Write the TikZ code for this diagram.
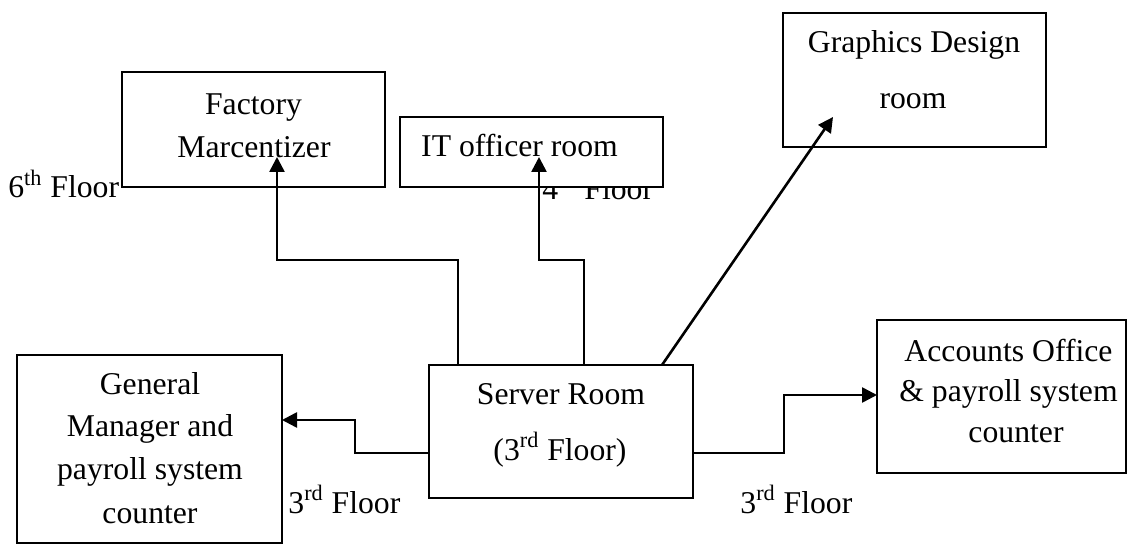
\documentclass[tikz,border=0pt]{standalone}
\usepackage{fontspec}
\setmainfont{Liberation Serif}
\usetikzlibrary{arrows.meta}
\begin{document}
\begin{tikzpicture}[x=0.5pt,y=-0.5pt,
  room/.style={draw, fill=white, line width=1.1pt, inner sep=0pt, outer sep=0pt},
  txt/.style={font=\fontsize{15.85}{19}\selectfont, inner sep=0pt, anchor=base},
  floorlbl/.style={txt, anchor=base west},
  link/.style={line width=1.3pt, -{Triangle[length=7.5pt,width=7.5pt]}}]

\useasboundingbox (0,0) rectangle (1128,544);

% floor labels (drawn first so the IT box hides part of one)
\node[floorlbl] (f6)  at (8,198)   {6\textsuperscript{th} Floor};
\node[floorlbl] (f4)  at (542,200) {4\textsuperscript{th} Floor};
\node[floorlbl] (f3l) at (288,513) {3\textsuperscript{rd} Floor};
\node[floorlbl] (f3r) at (740,513) {3\textsuperscript{rd} Floor};

% rooms
\node[room, minimum width=131.5pt, minimum height=57.5pt] (fac) at (253.5,129.5) {};
\node[room, minimum width=131.5pt, minimum height=35pt]   (it)  at (531.5,152) {};
\node[room, minimum width=131.5pt, minimum height=67pt]   (gfx) at (914.5,80) {};
\node[room, minimum width=132pt,   minimum height=66.5pt] (srv) at (561,431.5) {};
\node[room, minimum width=132.5pt, minimum height=94pt]   (gm)  at (149.5,449) {};
\node[room, minimum width=124.5pt, minimum height=76.5pt] (acc) at (1001.5,396.5) {};

% room names
\node[txt] (fac-a) at (253.5,115) {Factory};
\node[txt] (fac-b) at (254,158) {Marcentizer};
\node[txt] (it-a)  at (519.5,157) {IT officer room};
\node[txt] (gfx-a) at (914,53) {Graphics Design};
\node[txt] (gfx-b) at (913,109) {room};
\node[txt] (srv-a) at (561,405) {Server Room};
\node[txt] (srv-b) at (560,460) {(3\textsuperscript{rd} Floor)};
\node[txt] (gm-a) at (150,395) {General};
\node[txt] (gm-b) at (150,437) {Manager and};
\node[txt] (gm-c) at (150,479) {payroll system};
\node[txt] (gm-d) at (150,523) {counter};
\node[txt] (acc-a) at (1008.5,362) {Accounts Office};
\node[txt] (acc-b) at (1008.5,402) {\& payroll system};
\node[txt] (acc-c) at (1016,443) {counter};

% connector ends
\coordinate (s-fac) at (458,365);
\coordinate (s-it)  at (584,365);
\coordinate (s-gfx) at (662,365);
\coordinate (s-gm)  at (429,453);
\coordinate (s-acc) at (693,453);
\coordinate (e-fac) at (277,157);
\coordinate (e-it)  at (539,157);
\coordinate (e-gfx) at (833,117);
\coordinate (e-gm)  at (282,420);
\coordinate (e-acc) at (877,395);

% links from the server room
\draw[link] (s-fac) -- ++(0,-105) -| (e-fac);
\draw[link] (s-it)  -- ++(0,-105) -| (e-it);
\draw[link] (s-gfx) -- (e-gfx);
\draw[link] (s-gm)  -- ++(-74,0) |- (e-gm);
\draw[link] (s-acc) -- ++(91,0) |- (e-acc);
\end{tikzpicture}
\end{document}
